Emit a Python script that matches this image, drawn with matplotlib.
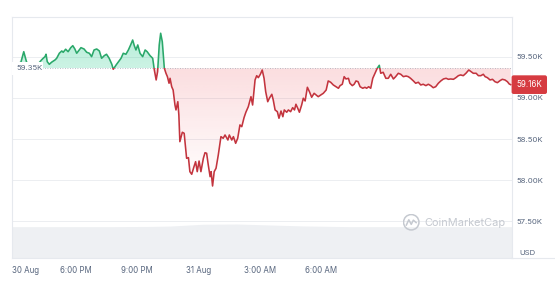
import numpy as np
import matplotlib
matplotlib.use("Agg")
import matplotlib.pyplot as plt
from matplotlib.patches import Rectangle, PathPatch, Circle
from matplotlib.path import Path
from matplotlib.lines import Line2D
from matplotlib.colors import to_rgb
from matplotlib.transforms import blended_transform_factory

plt.rcParams['font.family'] = ['Inter', 'DejaVu Sans']

# hours counted from 30 Aug 00:00
times = [14.87, 15.06, 15.30, 15.44, 15.58, 15.74, 15.98, 16.19, 16.31, 16.39,
         16.48, 16.53, 16.59, 16.69, 16.80, 16.97, 17.05, 17.18, 17.30, 17.37,
         17.49, 17.61, 17.74, 17.84, 17.94, 18.03, 18.15, 18.24, 18.39, 18.52,
         18.65, 18.76, 18.88, 19.01, 19.14, 19.25, 19.38, 19.49, 19.62, 19.75,
         19.82, 19.96, 20.06, 20.20, 20.31, 20.44, 20.56, 20.67, 20.77, 20.85,
         20.93, 21.02, 21.13, 21.26, 21.38, 21.48, 21.62, 21.75, 21.83, 21.92,
         21.99, 22.07, 22.14, 22.22, 22.32, 22.40, 22.47, 22.55, 22.60, 22.68,
         22.75, 22.84, 22.89, 22.98, 23.03, 23.08, 23.20, 23.29, 23.41, 23.50,
         23.57, 23.66, 23.77, 23.85, 23.93, 24.02, 24.11, 24.23, 24.31, 24.39,
         24.47, 24.56, 24.61, 24.68, 24.76, 24.85, 24.96, 25.09, 25.20, 25.29,
         25.43, 25.50, 25.62, 25.70, 25.81, 25.91, 26.02, 26.11, 26.22, 26.31,
         26.43, 26.56, 26.64, 26.76, 26.84, 26.92, 27.02, 27.11, 27.20, 27.28,
         27.38, 27.46, 27.58, 27.65, 27.74, 27.85, 27.93, 28.03, 28.12, 28.19,
         28.31, 28.39, 28.50, 28.60, 28.69, 28.76, 28.85, 28.93, 29.04, 29.12,
         29.21, 29.32, 29.42, 29.53, 29.65, 29.75, 29.85, 29.98, 30.10, 30.24,
         30.34, 30.46, 30.59, 30.72, 30.84, 30.92, 31.03, 31.12, 31.21, 31.33,
         31.40, 31.52, 31.61, 31.70, 31.80, 31.90, 32.03, 32.14, 32.22, 32.32,
         32.42, 32.52, 32.63, 32.74, 32.84, 32.91, 33.03, 33.16, 33.28, 33.40,
         33.53, 33.64, 33.77, 33.89, 34.02, 34.15, 34.26, 34.37, 34.51, 34.62,
         34.75, 34.87, 34.99, 35.12, 35.24, 35.36, 35.48, 35.60, 35.73, 35.85,
         35.98, 36.11, 36.22, 36.33, 36.47, 36.59, 36.71, 36.82, 36.95, 37.08,
         37.22, 37.33, 37.44, 37.58, 37.69, 37.81, 37.93, 38.02, 38.13, 38.26,
         38.38, 38.50, 38.62, 38.75, 38.86, 38.99, 39.11, 39.20, 39.27]

prices = [59420, 59410, 59432, 59560, 59432, 59410, 59400, 59425, 59460, 59480,
          59500, 59529, 59439, 59407, 59432, 59460, 59480, 59541, 59569, 59553,
          59590, 59560, 59609, 59633, 59593, 59541, 59581, 59609, 59593, 59553,
          59541, 59500, 59581, 59593, 59569, 59480, 59512, 59529, 59480, 59407,
          59347, 59399, 59432, 59480, 59541, 59529, 59581, 59642, 59702, 59633,
          59581, 59642, 59541, 59500, 59581, 59560, 59512, 59480, 59338, 59217,
          59318, 59642, 59784, 59682, 59359, 59298, 59257, 59177, 59237, 59135,
          59095, 58913, 58853, 58953, 58792, 58468, 58582, 58570, 58266, 58274,
          58104, 58072, 58164, 58225, 58104, 58233, 58104, 58266, 58334, 58327,
          58185, 58043, 58104, 57930, 58104, 58145, 58306, 58529, 58509, 58549,
          58488, 58549, 58488, 58529, 58448, 58509, 58671, 58650, 58759, 58825,
          58893, 59014, 58913, 59217, 59269, 59245, 59286, 59338, 59237, 59075,
          58953, 58995, 59043, 58974, 58853, 58832, 58752, 58840, 58771, 58853,
          58825, 58853, 58832, 58881, 58853, 58922, 58873, 58825, 58913, 58995,
          58962, 59128, 59075, 59007, 59055, 59035, 59014, 59035, 59055, 59095,
          59205, 59189, 59156, 59135, 59116, 59148, 59165, 59257, 59229, 59237,
          59177, 59148, 59165, 59205, 59196, 59135, 59116, 59128, 59116, 59135,
          59116, 59237, 59298, 59359, 59395, 59298, 59310, 59237, 59237, 59286,
          59229, 59257, 59298, 59286, 59257, 59265, 59257, 59237, 59205, 59177,
          59189, 59156, 59165, 59148, 59165, 59148, 59123, 59135, 59177, 59205,
          59229, 59237, 59225, 59229, 59225, 59245, 59269, 59278, 59269, 59298,
          59338, 59318, 59298, 59298, 59269, 59269, 59286, 59257, 59245, 59217,
          59225, 59196, 59184, 59209, 59225, 59217, 59196, 59168, 59160]

# 24h volume (USD bn), drawn as the grey band at the bottom
vol_times = [14.86, 19.66, 21.62, 22.60, 24.21, 25.87, 27.49, 29.11, 31.40, 39.32]
volume = [25.6, 25.6, 25.8, 26.1, 27.6, 27.8, 27.0, 26.2, 25.6, 25.6]

base_price = 59359
last_price = 59160
y_ticks = [57500, 58000, 58500, 59000, 59500]
x_ticks = [15.53, 18, 21, 24, 27, 30]
x_labels = ['30 Aug', '6:00 PM', '9:00 PM', '31 Aug', '3:00 AM', '6:00 AM']

GREEN = '#2aa86a'
RED = '#c3343e'
TXT = '#58667e'
LINE_GREY = '#e6e9ee'

W, H = 555, 284
fig = plt.figure(figsize=(W / 100, H / 100), dpi=100)
rect = [11.5 / W, (H - 257.5) / H, 500.2 / W, 240.9 / H]
x0, x1 = 14.84, 39.32
y0, y1 = 57062, 59986

# volume band behind the price chart
vax = fig.add_axes(rect)
vax.fill_between(vol_times, volume, 0, color='#eef0f3', lw=0)
vax.set_xlim(x0, x1)
vax.set_ylim(0, 200)
vax.axis('off')

ax = fig.add_axes(rect)
ax.patch.set_visible(False)


def gradient_fill(coll, color, y_hi, y_lo, a_hi, a_lo):
    path = Path.make_compound_path(*coll.get_paths())
    patch = PathPatch(path, transform=ax.transData, fc='none', ec='none')
    ax.add_patch(patch)
    img = np.zeros((100, 1, 4))
    img[..., :3] = to_rgb(color)
    img[..., 3] = np.linspace(a_lo, a_hi, 100).reshape(-1, 1)
    im = ax.imshow(img, extent=[x0, x1, y_lo, y_hi], origin='lower',
                   aspect='auto', zorder=2, interpolation='bilinear')
    im.set_clip_path(patch)


t = np.array(times)
p = np.array(prices)
up = ax.fill_between(t, p, base_price, where=p >= base_price, interpolate=True,
                     color='none', lw=0)
down = ax.fill_between(t, p, base_price, where=p <= base_price, interpolate=True,
                       color='none', lw=0)
gradient_fill(up, '#16c784', 59800, base_price, 0.32, 0.22)
gradient_fill(down, '#ea3943', base_price, 57900, 0.17, 0.0)

g_line, = ax.plot(t, p, color=GREEN, lw=1.15, zorder=4, solid_joinstyle='round')
g_line.set_clip_path(Rectangle((x0, base_price), x1 - x0, 5000, transform=ax.transData))
r_line, = ax.plot(t, p, color=RED, lw=1.15, zorder=4, solid_joinstyle='round')
r_line.set_clip_path(Rectangle((x0, 50000), x1 - x0, base_price - 50000,
                               transform=ax.transData))

ax.axhline(base_price, color='#a3abb8', lw=0.6, ls=(0, (1, 2)), zorder=3)
# white box of the open-price label hides the line underneath it
ax.add_patch(Rectangle((x0, 59277), 16.38 - x0, 59429 - 59277, fc='white', ec='none',
                       zorder=5))
ax.text(15.09, base_price, '59.35K', fontsize=5.6, color=TXT, ha='left', va='center',
        zorder=6)

ax.set_xlim(x0, x1)
ax.set_ylim(y0, y1)
ax.set_yticks(y_ticks, [f'{v / 1000:.2f}K' for v in y_ticks])
ax.yaxis.tick_right()
ax.set_xticks(x_ticks, x_labels)
ax.tick_params(axis='y', length=0, pad=3.2, labelsize=5.6, labelcolor=TXT)
ax.tick_params(axis='x', length=0, pad=6, labelsize=5.7, labelcolor=TXT)
ax.grid(axis='y', color='#eceef1', lw=0.7)
ax.set_axisbelow(True)
for s in ax.spines.values():
    s.set_color(LINE_GREY)
    s.set_linewidth(0.8)

# last price tag on the right
trans = blended_transform_factory(ax.transAxes, ax.transData)
ax.annotate(f'{last_price / 1000:.2f}K', xy=(1.0, last_price), xycoords=trans,
            xytext=(3.4, 0), textcoords='offset points', ha='left', va='center',
            fontsize=5.8, color='white', zorder=7, annotation_clip=False,
            bbox=dict(boxstyle='round,pad=0.6,rounding_size=0.25', fc='#d63b41', ec='none'))

fig.text(519 / W, (H - 253) / H, 'USD', fontsize=5.6, color=TXT, ha='left', va='center')
fig.add_artist(Line2D([511.7 / W, 1.0], [(H - 257.5) / H] * 2, color=LINE_GREY, lw=0.8))

# watermark
lax = fig.add_axes([402.5 / W, (H - 231) / H, 17.5 / W, 17.5 / H])
lax.set_xlim(0, 1)
lax.set_ylim(0, 1)
lax.set_aspect('equal')
lax.axis('off')
lax.add_patch(Circle((0.5, 0.5), 0.44, fill=False, ec='#c5c9d0', lw=1.1))
lax.plot([0.22, 0.36, 0.5, 0.62, 0.78], [0.34, 0.64, 0.38, 0.62, 0.48],
         color='#c5c9d0', lw=1.1, solid_joinstyle='round')
fig.text(424 / W, (H - 222.5) / H, 'CoinMarketCap', fontsize=7.9, color='#c5c9d0',
         ha='left', va='center')

fig.savefig('out.png', dpi=100)
